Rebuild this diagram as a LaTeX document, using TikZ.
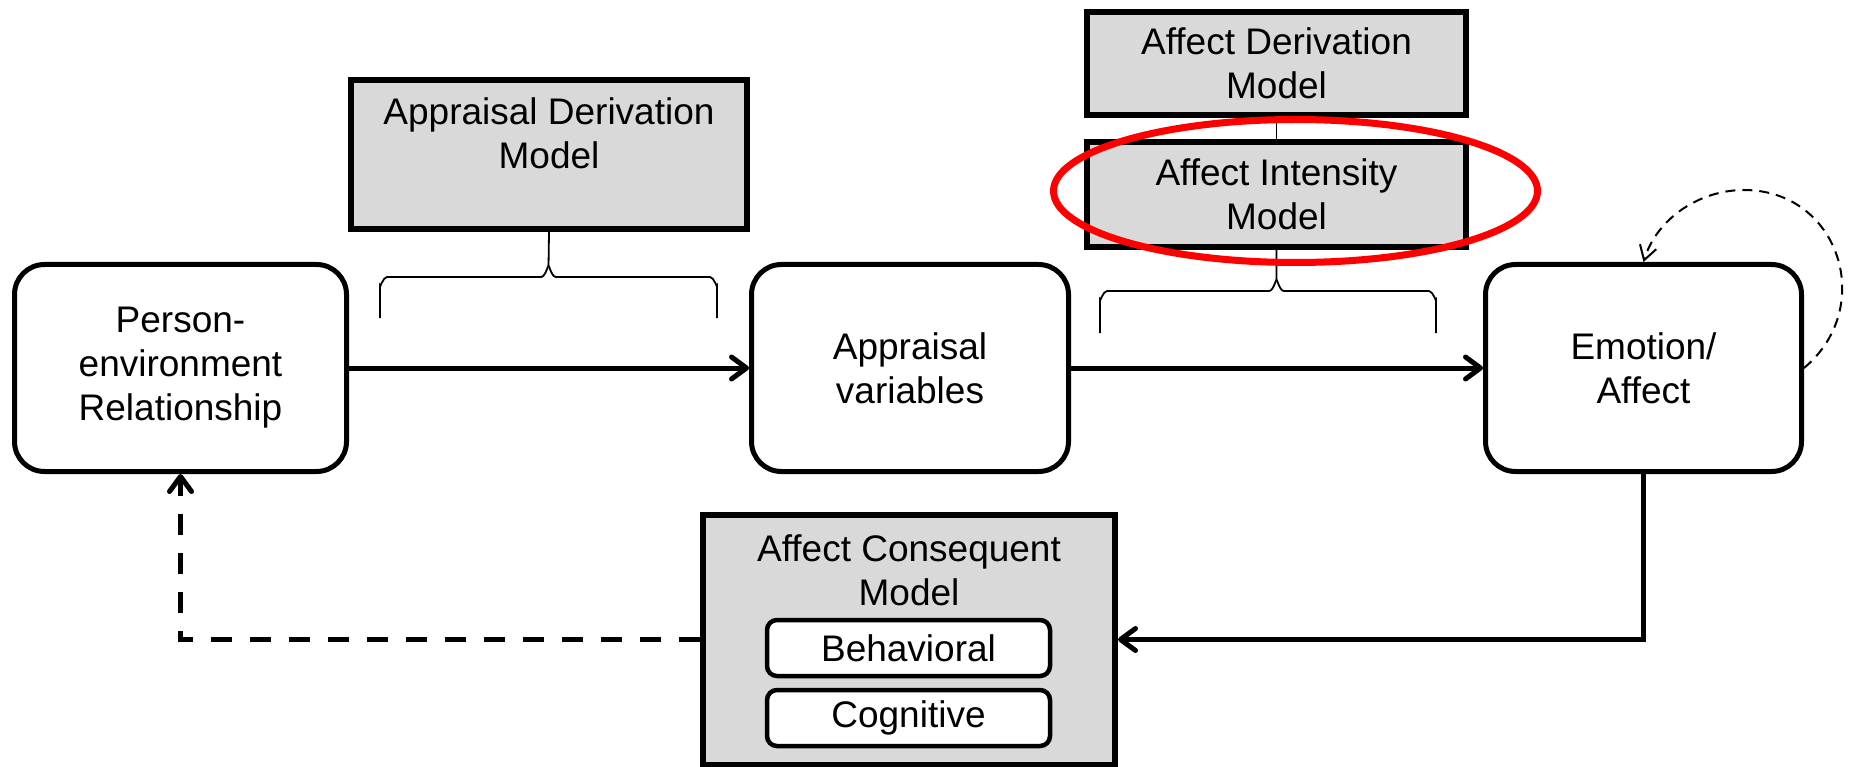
\documentclass[tikz,border=0pt]{standalone}
\usepackage{fontspec}
\setmainfont{Liberation Sans}
\usetikzlibrary{arrows.meta}
\definecolor{boxgray}{HTML}{D9D9D9}
\begin{document}
\begin{tikzpicture}[x=1pt,y=-1pt,
  every node/.style={font=\fontsize{37}{44}\selectfont, align=center, inner sep=0pt},
  roundbox/.style={draw, line width=5pt, rounded corners=30pt, fill=white},
  graybox/.style={draw, line width=6pt, fill=boxgray},
  subbox/.style={draw, line width=4.5pt, rounded corners=10pt, fill=white},
  flow/.style={line width=5pt, -{Straight Barb[length=15pt,width=22pt,round]}},
  feedback/.style={line width=5pt, dash pattern=on 21pt off 18pt,
    -{Straight Barb[length=15pt,width=22pt,round]}},
  selfloop/.style={line width=2pt, dash pattern=on 10pt off 7pt,
    -{Straight Barb[length=14pt,width=17pt]}},
  thinline/.style={line width=1.8pt},
]
\useasboundingbox (0,0) rectangle (1849,767);

% main process boxes
\node[roundbox, minimum width=332pt, minimum height=207pt] (pe) at (180.5,368)
  {Person-\\environment\\Relationship};
\node[roundbox, minimum width=317pt, minimum height=207pt] (av) at (910,368)
  {Appraisal\\variables};
\node[roundbox, minimum width=316pt, minimum height=207pt] (emo) at (1643.5,368)
  {Emotion/\\Affect};

% model boxes
\node[graybox, minimum width=396pt, minimum height=149pt] (adm) at (549,154.5) {};
\node (admtxt) at (549,133) {Appraisal Derivation\\Model};
\node[graybox, minimum width=379pt, minimum height=103pt] (afd) at (1276.5,63.5)
  {Affect Derivation\\Model};
\node[graybox, minimum width=379pt, minimum height=105pt] (aim) at (1276.5,194.5)
  {Affect Intensity\\Model};
\node[graybox, minimum width=412pt, minimum height=250pt] (acm) at (909,639.5) {};
\node (acmtxt) at (909,570) {Affect Consequent\\Model};
\node[subbox, minimum width=283pt, minimum height=56pt] (beh) at (908.5,648) {Behavioral};
\node[subbox, minimum width=283pt, minimum height=56pt] (cog) at (908.5,718) {Cognitive};

% link between the two affect models
\draw[thinline] (afd.south) -- (aim.north);

% braces under the derivation models
\draw[thinline] (380,318) -- (380,285) to[out=-90,in=180] (387,277) -- (541,277)
  to[out=0,in=90] (548.5,267) -- (adm.south);
\draw[thinline] (548.5,267) to[out=90,in=180] (556,277) -- (710,277)
  to[out=0,in=-90] (717,285) -- (717,318);
\draw[thinline] (1100,333) -- (1100,299) to[out=-90,in=180] (1107,291) -- (1269,291)
  to[out=0,in=90] (1276.5,281) -- (aim.south);
\draw[thinline] (1276.5,281) to[out=90,in=180] (1284,291) -- (1429,291)
  to[out=0,in=-90] (1436,299) -- (1436,333);

% highlight
\draw[red, line width=7pt] (1295.5,191) ellipse [x radius=242, y radius=71.5];

% flow connectors
\draw[flow] (pe.east) -- (av.west);
\draw[flow] (av.east) -- (emo.west);
\draw[flow] (emo.south) |- (acm.east);
\draw[feedback] (acm.west) -| (pe.south);

% self loop on the emotion box
\coordinate (looptop) at (1744,190);
\draw[selfloop] (emo.east) .. controls +(73,-61) and +(95,0) .. (looptop)
  .. controls +(-45,0) and +(13,-43) .. (emo.north);
\end{tikzpicture}
\end{document}
